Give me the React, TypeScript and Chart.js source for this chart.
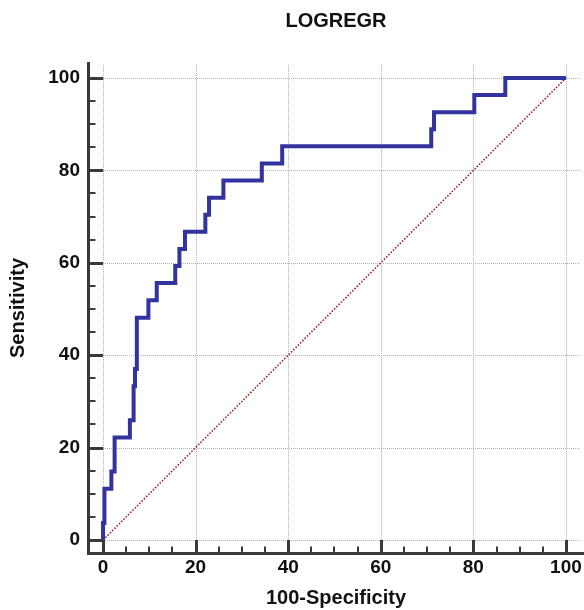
import React, { useEffect, useRef } from "react";
import { Chart, registerables } from "chart.js";

Chart.register(...registerables);

// ROC curve vertices (100-Specificity, Sensitivity), drawn as a step line
const falsePositiveRate = [0, 0, 0.3, 1.8, 2.5, 5.8, 6.6, 6.9, 7.3, 9.8, 11.6, 15.6, 16.5, 17.7, 22.1, 22.9, 26.0, 34.3, 38.7, 70.9, 71.5, 80.2, 86.9, 100];
const sensitivity = [0, 3.7, 11.1, 14.8, 22.2, 25.9, 33.3, 37.0, 48.1, 51.9, 55.6, 59.3, 63.0, 66.7, 70.4, 74.1, 77.8, 81.5, 85.2, 88.9, 92.6, 96.3, 100, 100];

// Reference diagonal
const diagonalX = [0, 100];
const diagonalY = [0, 100];

const majorTicks = [0, 20, 40, 60, 80, 100];
const minorTicks = [5, 10, 15, 25, 30, 35, 45, 50, 55, 65, 70, 75, 85, 90, 95];

const chartTitle = "LOGREGR";
const xTitle = "100-Specificity";
const yTitle = "Sensitivity";

const FONT_FAMILY = "'Liberation Sans', Arial, Helvetica, sans-serif";
const GRID_END = 103;

const rocFrame = {
  id: "rocFrame",
  beforeDatasetsDraw(chart: any) {
    const { ctx, chartArea } = chart;
    const xs = chart.scales.x;
    const ys = chart.scales.y;
    const x0 = xs.getPixelForValue(0);
    const y0 = ys.getPixelForValue(0);
    const xEnd = xs.getPixelForValue(GRID_END);
    const yEnd = ys.getPixelForValue(GRID_END);
    ctx.save();
    // dotted grid
    ctx.strokeStyle = "#b2b2b2";
    ctx.lineWidth = 1;
    ctx.setLineDash([1, 1]);
    majorTicks.forEach((v) => {
      const px = Math.round(xs.getPixelForValue(v)) + 0.5;
      ctx.beginPath();
      ctx.moveTo(px, y0);
      ctx.lineTo(px, yEnd);
      ctx.stroke();
      const py = Math.round(ys.getPixelForValue(v)) + 0.5;
      ctx.beginPath();
      ctx.moveTo(x0, py);
      ctx.lineTo(xEnd, py);
      ctx.stroke();
    });
    ctx.setLineDash([]);
    // axis lines
    const ax = chartArea.left + 0.5;
    const ay = chartArea.bottom - 0.5;
    ctx.strokeStyle = "#3a3a3a";
    ctx.lineWidth = 3;
    ctx.beginPath();
    ctx.moveTo(ax, chartArea.top);
    ctx.lineTo(ax, ay);
    ctx.lineTo(chartArea.right, ay);
    ctx.stroke();
    // major ticks
    ctx.lineWidth = 3;
    majorTicks.forEach((v) => {
      const px = Math.round(xs.getPixelForValue(v)) + 0.5;
      ctx.beginPath();
      ctx.moveTo(px, ay);
      ctx.lineTo(px, y0);
      ctx.stroke();
      const py = Math.round(ys.getPixelForValue(v)) + 0.5;
      ctx.beginPath();
      ctx.moveTo(ax, py);
      ctx.lineTo(x0, py);
      ctx.stroke();
    });
    // minor ticks
    ctx.lineWidth = 2;
    minorTicks.forEach((v) => {
      const px = Math.round(xs.getPixelForValue(v));
      ctx.beginPath();
      ctx.moveTo(px, ay);
      ctx.lineTo(px, ay - 7);
      ctx.stroke();
      const py = Math.round(ys.getPixelForValue(v));
      ctx.beginPath();
      ctx.moveTo(ax, py);
      ctx.lineTo(ax + 7, py);
      ctx.stroke();
    });
    ctx.restore();
  },
};

export default function App() {
  const canvasRef = useRef<HTMLCanvasElement | null>(null);

  useEffect(() => {
    document.body.style.margin = "0";
    const canvas = canvasRef.current;
    if (!canvas) return;
    const tickFont = { family: FONT_FAMILY, size: 19, weight: "bold" as const };
    const titleFont = { family: FONT_FAMILY, size: 20, weight: "bold" as const };
    const chart = new Chart(canvas, {
      type: "line",
      data: {
        datasets: [
          {
            label: "ROC",
            data: falsePositiveRate.map((x, i) => ({ x, y: sensitivity[i] })),
            borderColor: "#3333a0",
            borderWidth: 4,
            stepped: "before",
            pointRadius: 0,
            fill: false,
          },
          {
            label: "Reference",
            data: diagonalX.map((x, i) => ({ x, y: diagonalY[i] })),
            borderColor: "#9e2a2a",
            borderWidth: 1.6,
            borderDash: [1.6, 1.6],
            pointRadius: 0,
            fill: false,
          },
        ],
      },
      options: {
        animation: false,
        responsive: false,
        layout: { padding: 0 },
        plugins: {
          legend: { display: false },
          tooltip: { enabled: false },
          title: {
            display: true,
            text: chartTitle,
            fullSize: false,
            color: "#111",
            font: titleFont,
            padding: { top: 9, bottom: 29 },
          },
        },
        scales: {
          x: {
            type: "linear",
            min: -3.25,
            max: 103.9,
            grid: { display: false, drawTicks: false },
            border: { display: false },
            afterBuildTicks: (s: any) => {
              s.ticks = majorTicks.map((v) => ({ value: v }));
            },
            afterFit: (s: any) => {
              s.height = 56;
            },
            ticks: { padding: 2, font: tickFont, color: "#111", maxRotation: 0, autoSkip: false },
            title: { display: true, text: xTitle, font: titleFont, color: "#111", padding: 0 },
          },
          y: {
            type: "linear",
            min: -3.03,
            max: 103.46,
            grid: { display: false, drawTicks: false },
            border: { display: false },
            afterBuildTicks: (s: any) => {
              s.ticks = majorTicks.map((v) => ({ value: v }));
            },
            afterFit: (s: any) => {
              s.width = 88;
            },
            ticks: { padding: 8, font: tickFont, color: "#111", autoSkip: false },
            title: { display: true, text: yTitle, font: titleFont, color: "#111", padding: { top: 6, bottom: 0 } },
          },
        },
      },
      plugins: [rocFrame],
    } as any);
    return () => chart.destroy();
  }, []);

  return (
    <div style={{ width: 584, height: 610 }}>
      <canvas ref={canvasRef} width={584} height={610} style={{ display: "block" }} />
    </div>
  );
}
